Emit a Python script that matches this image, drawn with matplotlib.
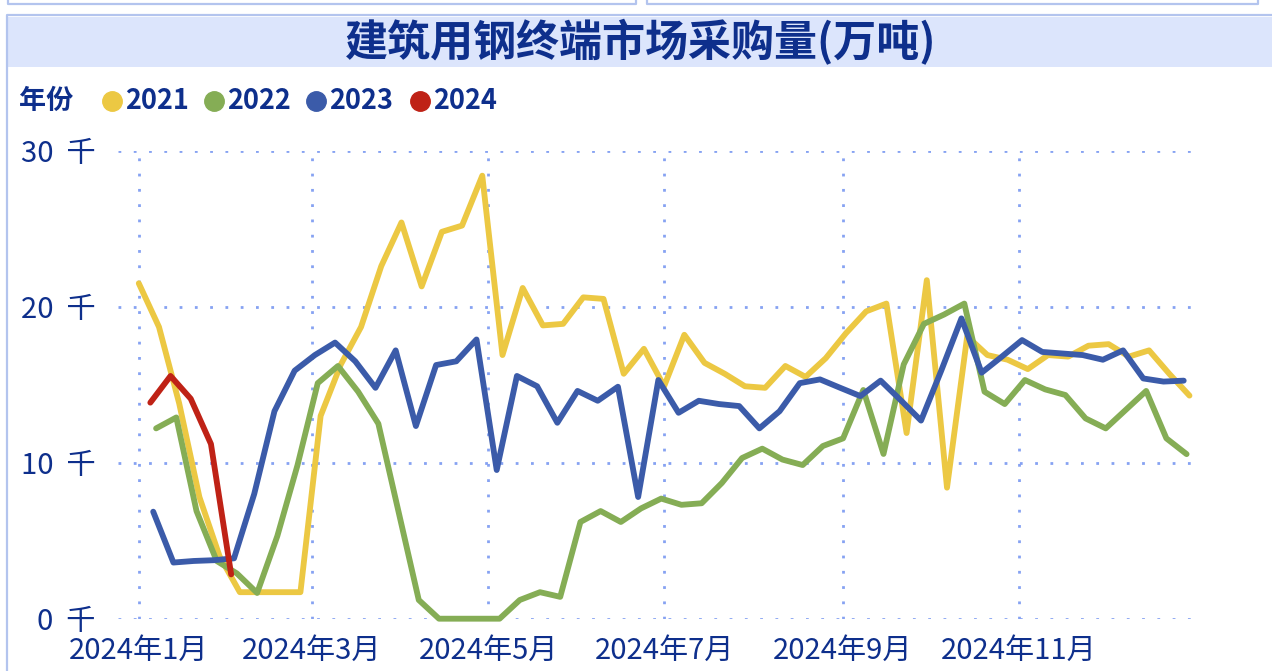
import matplotlib
matplotlib.use('Agg')
import matplotlib.pyplot as plt
import pandas as pd
from matplotlib.lines import Line2D
from matplotlib.patches import Rectangle

plt.rcParams['font.family'] = ['Noto Sans CJK SC', 'DejaVu Sans']

# weekly (Friday) series, one list per year
years = ['2021', '2022', '2023', '2024']
first_friday = ['2021-01-01', '2022-01-07', '2023-01-06', '2024-01-05']

y2021 = [21.5, 18.7, 13.8, 7.8, 4.0, 1.7, 1.7, 1.7, 1.7, 13.0,
         16.3, 18.7, 22.6, 25.4, 21.3, 24.8, 25.2, 28.4, 16.9, 21.2,
         18.8, 18.9, 20.6, 20.5, 15.7, 17.3, 14.9, 18.2, 16.4, 15.7,
         14.9, 14.8, 16.2, 15.5, 16.7, 18.3, 19.7, 20.2, 11.9, 21.7,
         8.4, 18.1, 16.9, 16.6, 16.0, 16.9, 16.8, 17.5, 17.6, 16.8,
         17.2, 15.7, 14.3]
y2022 = [12.2, 12.9, 6.9, 3.7, 2.9, 1.65, 5.3, 9.85, 15.1, 16.2,
         14.55, 12.5, 6.85, 1.2, 0, 0, 0, 0, 1.2, 1.7,
         1.4, 6.2, 6.9, 6.2, 7.07, 7.7, 7.3, 7.4, 8.7, 10.3,
         10.9, 10.2, 9.85, 11.07, 11.56, 14.66, 10.56, 16.3, 18.9, 19.5,
         20.2, 14.55, 13.76, 15.3, 14.7, 14.34, 12.84, 12.2, 13.4, 14.6,
         11.56, 10.55]
y2023 = [6.86, 3.6, 3.7, 3.75, 3.87, 8.0, 13.3, 15.9, 16.9, 17.7,
         16.5, 14.8, 17.2, 12.35, 16.26, 16.5, 17.9, 9.53, 15.56, 14.9,
         12.56, 14.6, 13.97, 14.87, 7.8, 15.3, 13.2, 13.97, 13.76, 13.63,
         12.2, 13.3, 15.1, 15.34, 14.8, 14.27, 15.26, 14.0, 12.7, 15.9,
         19.25, 15.77, 16.8, 17.86, 17.1, 17.0, 16.9, 16.6, 17.2, 15.4,
         15.2, 15.26]
y2024 = [13.85, 15.56, 14.1, 11.2, 2.84]
series = [y2021, y2022, y2023, y2024]
colors = ['#ecc843', '#85ad55', '#3b5ba9', '#bf2216']

tick_dates = ['2024-01-01', '2024-03-01', '2024-05-01', '2024-07-01', '2024-09-01', '2024-11-01']
tick_labels = ['2024年1月', '2024年3月', '2024年5月', '2024年7月', '2024年9月', '2024年11月']
y_ticks = [0, 10, 20, 30]
y_labels = ['0  千', '10  千', '20  千', '30  千']

navy = '#0e2f8c'
grid_c = '#86a2f2'
border_c = '#b3c4ee'

W, H = 1272, 671
fig = plt.figure(figsize=(W / 100, H / 100), dpi=100)


def fx(px):
    return px / W


def fy(py):
    return 1 - py / H


# frames around the panel
for xs, ys in [([8, 8, 636, 636], [0, 4, 4, 0]),
               ([647, 647, 1258, 1258], [0, 4, 4, 0]),
               ([7, 7, 1272], [671, 15, 15])]:
    fig.add_artist(Line2D([fx(v) for v in xs], [fy(v) for v in ys],
                          color=border_c, lw=1.6, transform=fig.transFigure))

# title band
fig.add_artist(Rectangle((fx(8), fy(67)), fx(1272) - fx(8), fy(17) - fy(67),
                         transform=fig.transFigure, facecolor='#dce5fc',
                         edgecolor='none', zorder=0))
fig.text(fx(641), fy(42), '建筑用钢终端市场采购量(万吨)', ha='center', va='center',
         fontsize=31, fontweight='bold', color=navy)

# legend
fig.text(fx(19), fy(101), '年份', ha='left', va='center', fontsize=19.5,
         fontweight='bold', color=navy)
for name, c, cx in zip(years, colors, [112, 214, 316, 420]):
    fig.add_artist(Line2D([fx(cx)], [fy(101)], marker='o', markersize=14,
                          color=c, lw=0, transform=fig.transFigure))
    fig.text(fx(cx + 13), fy(101), name, ha='left', va='center', fontsize=19.5,
             fontweight='bold', color=navy)

ax = fig.add_axes([fx(118), fy(618.7), fx(1199) - fx(118), (618.7 - 150.7) / H])

base = pd.Timestamp('2024-01-01')
for name, start, vals, c in zip(years, first_friday, series, colors):
    d = pd.date_range(start, periods=len(vals), freq='7D')
    x = [base + (t - pd.Timestamp(name + '-01-01')) for t in d]
    ax.plot(x, vals, color=c, lw=4.2, solid_capstyle='round',
            solid_joinstyle='round', clip_on=False, zorder=3)

ax.set_xlim(base - pd.Timedelta(days=7.2), base + pd.Timedelta(days=367.3))
ax.set_ylim(0, 30)
ax.set_xticks(pd.to_datetime(tick_dates))
ax.set_xticklabels(tick_labels)
ax.set_yticks(y_ticks)
ax.set_yticklabels(y_labels)
ax.tick_params(length=0, labelsize=21, labelcolor=navy)
ax.tick_params(axis='y', pad=16)
ax.tick_params(axis='x', pad=12)
ax.grid(True, color=grid_c, lw=2.0, linestyle=(0, (1, 4.5)))
for s in ax.spines.values():
    s.set_visible(False)
ax.set_facecolor('none')

fig.savefig('out.png', dpi=100)
